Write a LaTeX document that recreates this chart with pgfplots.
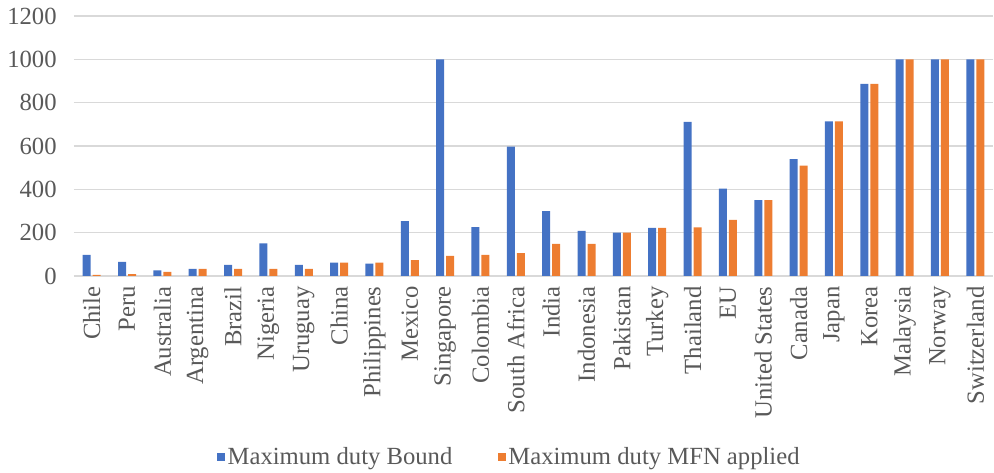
\documentclass[border=0pt]{standalone}
\usepackage{pgfplots}
\pgfplotsset{compat=1.18}
\usepackage{fontspec}
\setmainfont{Liberation Serif}
\definecolor{cblue}{HTML}{4472C4}
\definecolor{corange}{HTML}{ED7D31}
\definecolor{cgrid}{HTML}{D9D9D9}
\definecolor{ctext}{HTML}{595959}
\begin{document}
\begin{tikzpicture}
\begin{axis}[
  scale only axis,
  width=689.25pt, height=195pt,
  ybar, bar width=6pt,
  xmin=-0.5, xmax=25.5,
  ymin=0, ymax=1200,
  ytick={0,200,400,600,800,1000,1200},
  xtick=data,
  xticklabels={Chile,Peru,Australia,Argentina,Brazil,Nigeria,Uruguay,China,Philippines,Mexico,Singapore,Colombia,South Africa,India,Indonesia,Pakistan,Turkey,Thailand,EU,United States,Canada,Japan,Korea,Malaysia,Norway,Switzerland},
  xticklabel style={rotate=90, anchor=east, xshift=-4.3pt},
  yticklabel style={xshift=-9.5pt},
  tick label style={font=\fontsize{18.5}{21}\selectfont, text=ctext},
  /pgf/number format/assume math mode=true,
  /pgf/number format/1000 sep={},
  major tick length=0pt,
  axis line style={draw=none},
  ymajorgrids, grid style={cgrid, line width=1.1pt},
  legend style={at={(0.474,-0.696)}, anchor=center, draw=none, fill=none,
    font=\fontsize{18.5}{21}\selectfont, text=ctext, legend columns=2,
    /tikz/every even column/.append style={column sep=32pt}},
  legend image code/.code={\fill[#1] (0pt,-3pt) rectangle (6pt,3pt);},
]
\addplot[fill=cblue, draw=none, bar shift=-3.75pt] coordinates {
(0,97) (1,65) (2,26) (3,33) (4,51) (5,150) (6,51) (7,62) (8,57) (9,253)
(10,1000) (11,225) (12,597) (13,299) (14,208) (15,200) (16,222) (17,711)
(18,403) (19,350) (20,539) (21,714) (22,887) (23,1000) (24,1000) (25,1000)};
\addplot[fill=corange, draw=none, bar shift=3.75pt] coordinates {
(0,5) (1,9) (2,19) (3,33) (4,33) (5,33) (6,33) (7,62) (8,62) (9,73)
(10,93) (11,97) (12,106) (13,148) (14,148) (15,200) (16,222) (17,224)
(18,259) (19,350) (20,509) (21,714) (22,887) (23,1000) (24,1000) (25,1000)};
\legend{Maximum duty Bound, Maximum duty MFN applied}
\end{axis}
\pgfresetboundingbox
\path ([shift={(-55.5pt,-147.75pt)}]current axis.south west) rectangle ([shift={(0.75pt,12pt)}]current axis.north east);
\end{tikzpicture}
\end{document}
